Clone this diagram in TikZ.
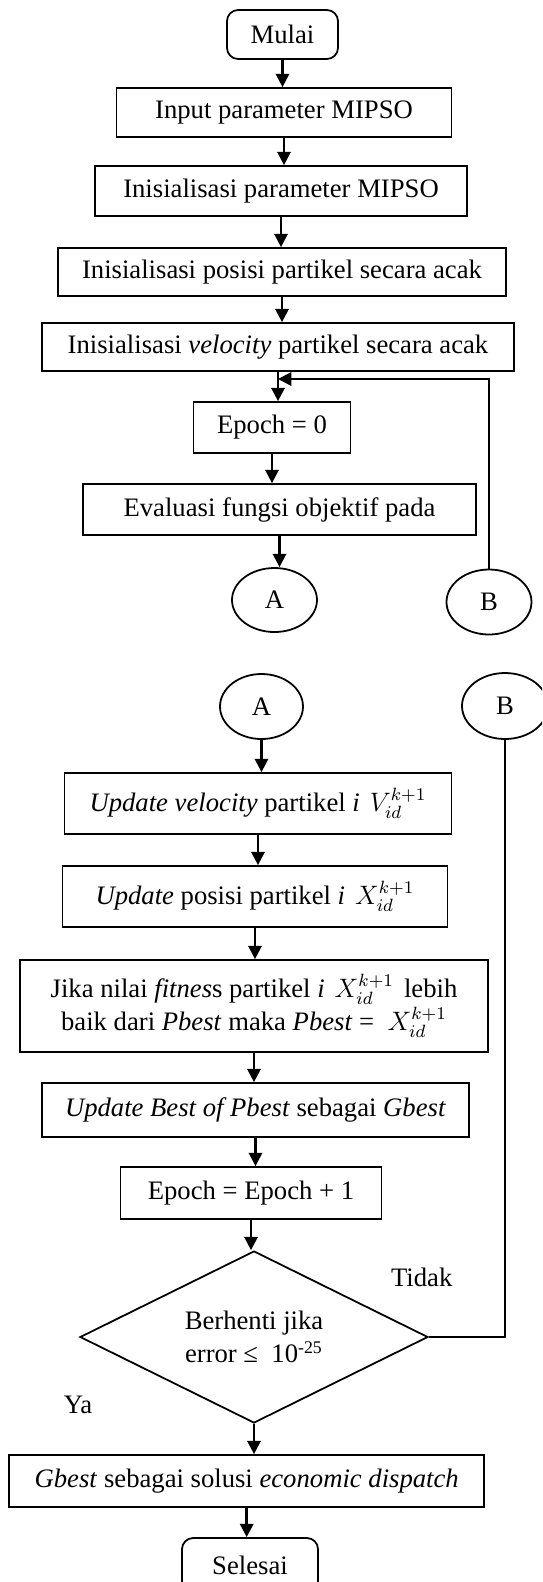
\documentclass[tikz,border=0pt]{standalone}
\usepackage{fontspec}
\setmainfont{Liberation Serif}
\usetikzlibrary{shapes.geometric,arrows.meta}

\begin{document}
\begin{tikzpicture}[x=0.45pt,y=-0.45pt,line join=miter,font=\fontsize{12}{14.9}\selectfont]
	\tikzset{ukuran/.style 2 args={minimum width=#1*0.45pt,minimum height=#2*0.45pt},
		kotak/.style={draw,line width=.8pt,inner sep=0pt,align=center},
		terminal/.style={kotak,rounded corners=5pt},
		konektor/.style={draw,ellipse,line width=.8pt,inner sep=0pt},
		keputusan/.style={draw,diamond,shape aspect=2,line width=.8pt,inner sep=0pt,align=center},
		panah/.style={-{Triangle[length=6pt,width=6pt]},line width=1.1pt},
		garis/.style={line width=.6pt}}
	\useasboundingbox (0,0) rectangle (542,1582);
	\clip (0,0) rectangle (542,1582);
	% Bagian pertama
	\node[terminal,ukuran={111}{49}] (mulai) at (282.5,34.5) {Mulai};
	\node[kotak,ukuran={335}{49}] (input) at (284,112.5) {Input parameter MIPSO};
	\node[kotak,ukuran={372}{50}] (param) at (281,191) {Inisialisasi parameter MIPSO};
	\node[kotak,ukuran={448}{48}] (posisi) at (282,272) {Inisialisasi posisi partikel secara acak};
	\node[kotak,ukuran={472}{48}] (velo) at (278,347) {Inisialisasi \textit{velocity} partikel secara acak};
	\node[kotak,ukuran={157}{51}] (epoch) at (272,427.5) {Epoch = 0};
	\node[kotak,ukuran={393}{51}] (evaluasi) at (279.5,509.5) {Evaluasi fungsi objektif pada};
	\node[konektor,ukuran={85}{64}] (A1) at (274.5,600) {A};
	\node[konektor,ukuran={85}{65}] (B1) at (489,602) {B};
	% Bagian kedua
	\node[konektor,ukuran={83}{65}] (A2) at (261.5,706.5) {A};
	\node[konektor,ukuran={86}{66}] (B2) at (505,706) {B};
	\node[kotak,ukuran={387}{61}] (updvel) at (258,803.5) {\textit{Update velocity} partikel \textit{i}\hspace{1.5pt} $V_{id}^{k+1}$};
	\node[kotak,ukuran={385}{61}] (updpos) at (255,896.5) {\textit{Update} posisi partikel \textit{i}\hspace{1.5pt} $X_{id}^{k+1}$};
	\node[kotak,ukuran={468}{92}] (pbest) at (254,1006) {Jika nilai \textit{fitnes}s partikel \textit{i}\hspace{1.5pt} $X_{id}^{k+1}$\hspace{1.5pt} lebih\\baik dari \textit{Pbest} maka \textit{Pbest} = ~$X_{id}^{k+1}$};
	\node[kotak,ukuran={427}{54}] (gbest) at (255.5,1110) {\textit{Update Best of Pbest} sebagai \textit{Gbest}};
	\node[kotak,ukuran={261}{52}] (epochplus) at (251,1193) {Epoch = Epoch + 1};
	\node[keputusan,ukuran={348}{172}] (cek) at (254,1337) {Berhenti jika\\error ≤ ~10\textsuperscript{-25}};
	\node[kotak,ukuran={475}{52}] (solusi) at (246.7,1481) {\textit{Gbest} sebagai solusi \textit{economic dispatch}};
	\node[terminal,ukuran={136}{54}] (selesai) at (250,1565) {Selesai};
	\node (tidak) at (421.7,1277) {Tidak};
	\node (ya) at (78,1405) {Ya};
	% Panah utama
	\foreach \a/\b in {mulai/input,input/param,param/posisi,posisi/velo,velo/epoch,epoch/evaluasi,evaluasi/A1,
		A2/updvel,updvel/updpos,updpos/pbest,pbest/gbest,gbest/epochplus,epochplus/cek,cek/solusi,solusi/selesai}{
		\draw[panah] (\a.south) -- (\a.south |- \b.north);}
	% Kembali ke awal iterasi
	\coordinate (gabung) at (278,379);
	\draw[panah] (B1.north) |- (gabung);
	\draw[garis] (cek.east) -| (B2.south);
\end{tikzpicture}
\end{document}
